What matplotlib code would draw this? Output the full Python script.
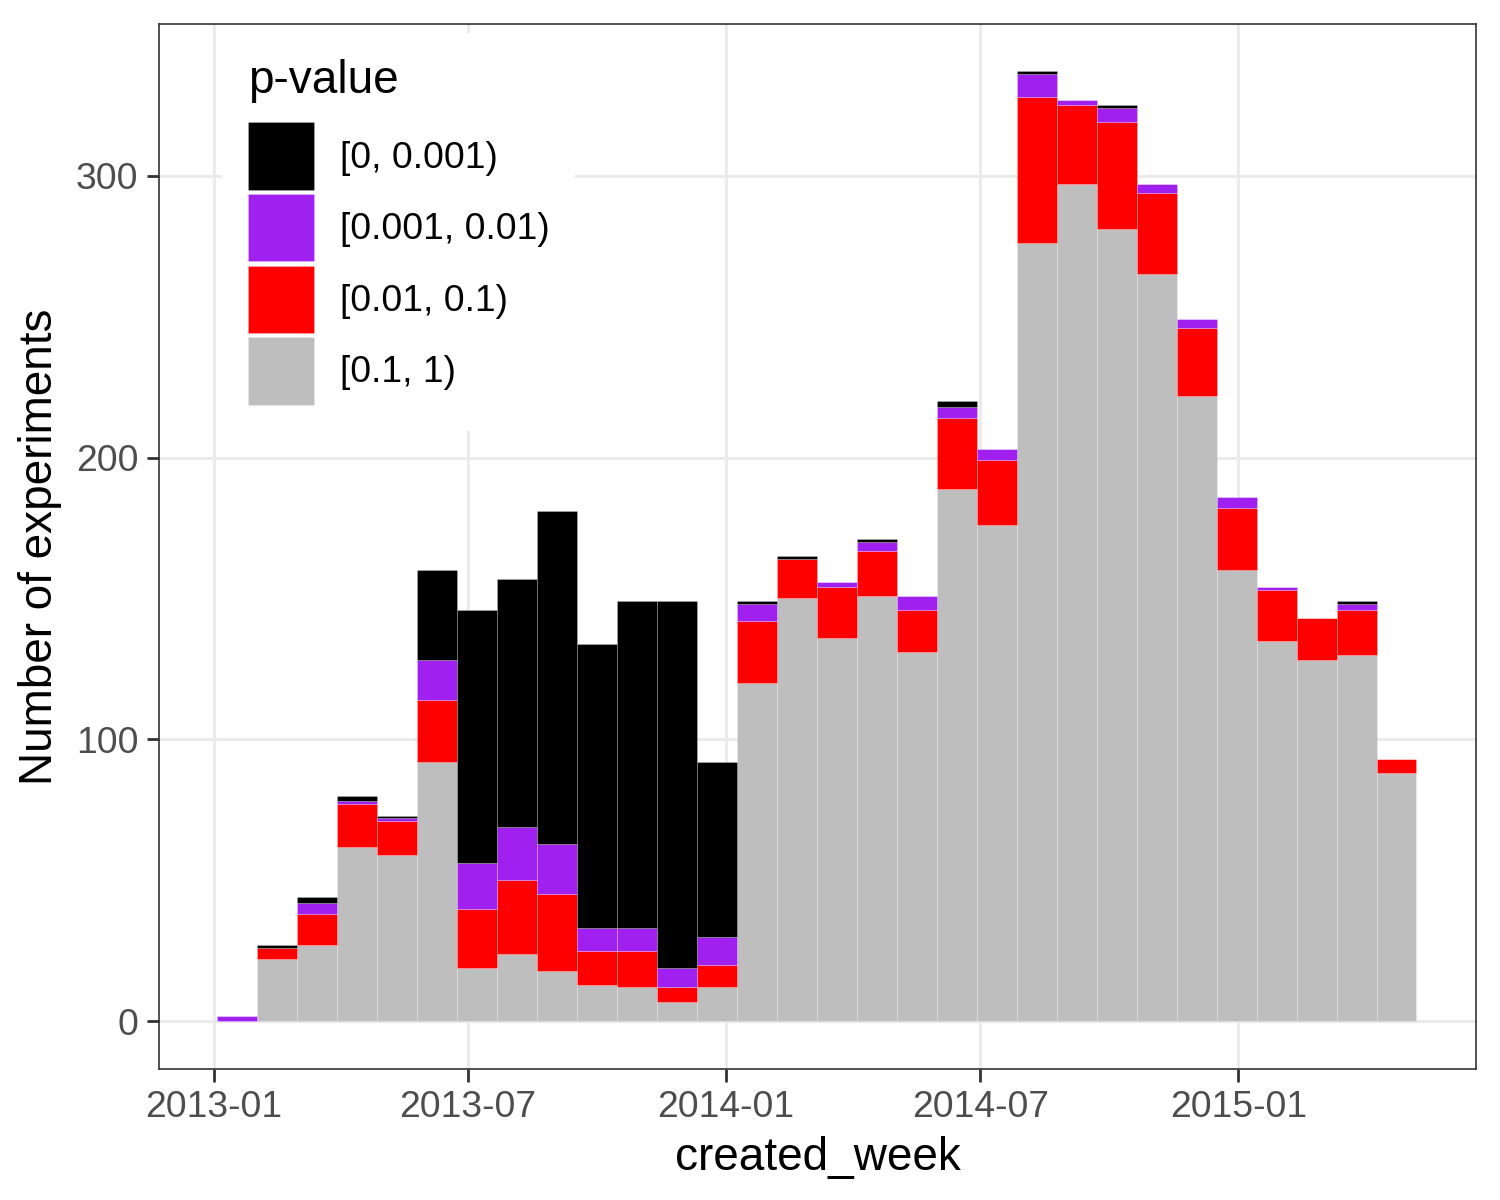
import numpy as np
import matplotlib
matplotlib.use('Agg')
import matplotlib.pyplot as plt
import matplotlib.dates as mdates
import datetime as dt

plt.rcParams['font.family'] = ['Liberation Sans', 'DejaVu Sans']

# p-value classes, stacked from bottom to top
labels = ['[0.1, 1)', '[0.01, 0.1)', '[0.001, 0.01)', '[0, 0.001)']
colors = ['#BEBEBE', '#FF0000', '#A020F0', '#000000']

# 30 bins of created_week
first_bin = dt.datetime(2013, 1, 3, 7)
bin_days = 28.49

n_grey = [0, 22, 27, 62, 59, 92, 19, 24, 18, 13,
          12, 7, 12, 120, 150, 136, 151, 131, 189, 176,
          276, 297, 281, 265, 222, 160, 135, 128, 130, 88]
n_red = [0, 4, 11, 15, 12, 22, 21, 26, 27, 12,
         13, 5, 8, 22, 14, 18, 16, 15, 25, 23,
         52, 28, 38, 29, 24, 22, 18, 15, 16, 5]
n_purple = [2, 0, 4, 1, 1, 14, 16, 19, 18, 8,
            8, 7, 10, 6, 0, 2, 3, 5, 4, 4,
            8, 2, 5, 3, 3, 4, 1, 0, 2, 0]
n_black = [0, 1, 2, 2, 1, 32, 90, 88, 118, 101,
           116, 130, 62, 1, 1, 0, 1, 0, 2, 0,
           1, 0, 1, 0, 0, 0, 0, 0, 1, 0]

counts = [n_grey, n_red, n_purple, n_black]

fig = plt.figure(figsize=(7.5, 6), dpi=200)
ax = fig.add_axes([0.1062, 0.1094, 0.984 - 0.1062, 0.98 - 0.1094])

left = mdates.date2num(first_bin) + np.arange(len(n_grey)) * bin_days
bottom = np.zeros(len(n_grey))
for n, c, lab in zip(counts, colors, labels):
    n = np.array(n)
    ax.bar(left, n, width=bin_days, bottom=bottom, align='edge', color=c,
           edgecolor=(1, 1, 1, 0.25), linewidth=0.3, label=lab, zorder=3)
    bottom = bottom + n

origin = mdates.date2num(dt.datetime(2013, 1, 1))
ax.set_xlim(origin - 39, origin + 899.4)
ymax = bottom.max()
ax.set_ylim(-0.05 * ymax, ymax * 1.05)

ax.xaxis.set_major_locator(mdates.MonthLocator(bymonth=[1, 7]))
ax.xaxis.set_major_formatter(mdates.DateFormatter('%Y-%m'))
ax.set_yticks([0, 100, 200, 300])

ax.grid(True, color='#EBEBEB', linewidth=1.1, zorder=0)
ax.set_axisbelow(True)
for s in ax.spines.values():
    s.set_color('#333333')
    s.set_linewidth(0.6)
ax.tick_params(axis='both', colors='#333333', length=4.5, width=1.0,
               labelsize=13.4, labelcolor='#4D4D4D', pad=3)

ax.set_xlabel('created_week', fontsize=16.5, labelpad=4)
ax.set_ylabel('Number of experiments', fontsize=16.5, labelpad=5)

h, l = ax.get_legend_handles_labels()
leg = ax.legend(h[::-1], l[::-1], title='p-value', loc='upper left',
                bbox_to_anchor=(0.0476, 0.9914), borderaxespad=0,
                fontsize=13.4, title_fontsize=16.5,
                frameon=True, facecolor='white', edgecolor='none', framealpha=1,
                fancybox=False,
                handlelength=1.78, handleheight=2.4, labelspacing=0.12,
                handletextpad=0.68, borderpad=0.7, alignment='left')
leg._legend_box.sep = 7
leg.set_zorder(5)

fig.savefig('out.png', dpi=200)
